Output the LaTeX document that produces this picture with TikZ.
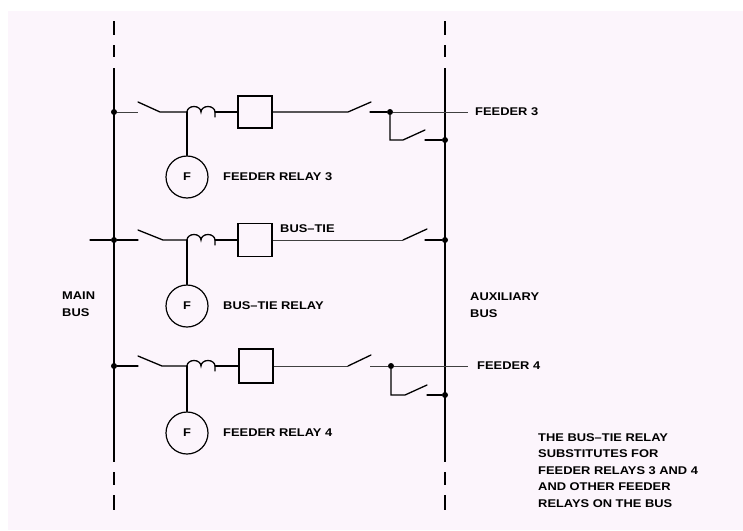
\documentclass[tikz,border=0pt]{standalone}
\usepackage{fontspec}
\newfontfamily\lblfamily[FakeStretch=1.15]{Liberation Sans}
\newcommand{\lblfont}{\lblfamily\bfseries\fontsize{11.2}{16.5}\selectfont}
\definecolor{pinkbg}{RGB}{252,245,252}
\tikzset{
  wire/.style={line width=1.3pt, line cap=round},
  thinwire/.style={line width=1pt, black!75},
  buswire/.style={line width=1.8pt},
  jdot/.style={circle, fill=black, inner sep=0pt, minimum size=6pt},
  relay/.style={circle, draw, line width=1.2pt, minimum size=42pt, inner sep=0pt, font=\lblfont},
  brk/.style={draw, line width=1.2pt, minimum width=34pt, minimum height=32pt, inner sep=0pt},
  lbl/.style={font=\lblfont, inner sep=0pt, anchor=west},
  coilarc/.style={x radius=7pt, y radius=5.5pt},
}
\begin{document}
\begin{tikzpicture}[x=1pt,y=-1pt]
\useasboundingbox (0,0) rectangle (743,530);
\fill[white] (0,0) rectangle (743,530);
\fill[pinkbg] (8,11) rectangle (743,530);

% ---------- buses ----------
\foreach \bx/\nm in {114/L,445/R}{
  \coordinate (bt\nm) at (\bx,68);
  \coordinate (bb\nm) at (\bx,462);
  \draw[buswire] (bt\nm) -- (bb\nm);
  \draw[buswire] (\bx,21) -- (\bx,35);
  \draw[buswire] (\bx,45) -- (\bx,57);
  \draw[buswire] (\bx,472) -- (\bx,485);
  \draw[buswire] (\bx,495) -- (\bx,510);
}

% ---------- row 1 : feeder 3 ----------
\node[jdot] (j1L) at (114,112) {};
\coordinate (s1a) at (138,112);
\coordinate (s1b) at (138,102);
\coordinate (s1c) at (160,112);
\coordinate (c1) at (187,112);
\coordinate (c1e) at (215,112);
\node[brk] (br1) at (255,112) {};
\coordinate (s1d) at (348,112);
\coordinate (s1e) at (371,102);
\coordinate (s1f) at (370,112);
\node[jdot] (j1R) at (390,112) {};
\coordinate (f3end) at (468,112);
\coordinate (k1a) at (390,140);
\coordinate (k1b) at (403,140);
\coordinate (k1c) at (425,130);
\coordinate (k1d) at (425,140);
\node[jdot] (d1) at (445,140) {};
\node[relay] (r1) at (187,177) {F};

\draw[thinwire] (j1L) -- (s1a);
\draw[wire] (s1b) -- (s1c) -- (c1);
\draw[wire] (c1) arc[start angle=180,end angle=0,coilarc] arc[start angle=180,end angle=0,coilarc] -- ++(0,5);
\draw[wire] (c1e) -- (br1.west);
\draw[wire] (br1.east) -- (s1d) -- (s1e);
\draw[wire] (s1f) -- (j1R);
\draw[thinwire] (j1R) -- (f3end);
\draw[wire] (j1R) -- (k1a) -- (k1b) -- (k1c);
\draw[wire] (k1d) -- (d1);
\draw[wire] (c1) -- (r1.north);
\node[lbl] (t1) at (223,177) {FEEDER RELAY 3};
\node[lbl] (t1f) at (475,112) {FEEDER 3};

% ---------- row 2 : bus tie ----------
\coordinate (b2a) at (90,240);
\node[jdot] (j2L) at (114,240) {};
\coordinate (s2a) at (138,240);
\coordinate (s2b) at (138,230);
\coordinate (s2c) at (163,240);
\coordinate (c2) at (187,240);
\coordinate (c2e) at (215,240);
\node[brk, minimum height=33pt] (br2) at (255,240) {};
\coordinate (s2d) at (403,240);
\coordinate (s2e) at (427,229);
\coordinate (s2f) at (425,240);
\node[jdot] (j2R) at (445,240) {};
\node[relay] (r2) at (187,306) {F};

\draw[wire] (b2a) -- (j2L) -- (s2a);
\draw[wire] (s2b) -- (s2c) -- (c2);
\draw[wire] (c2) arc[start angle=180,end angle=0,coilarc] arc[start angle=180,end angle=0,coilarc] -- ++(0,5);
\draw[wire] (c2e) -- (br2.west);
\draw[thinwire] (br2.east) -- (s2d);
\draw[wire] (s2d) -- (s2e);
\draw[wire] (s2f) -- (j2R);
\draw[wire] (c2) -- (r2.north);
\node[lbl] (t2) at (223,306) {BUS–TIE RELAY};
\node[lbl] (t2b) at (280,229) {BUS–TIE};

% ---------- row 3 : feeder 4 ----------
\node[jdot] (j3L) at (114,366) {};
\coordinate (s3a) at (138,366);
\coordinate (s3b) at (138,356);
\coordinate (s3c) at (162,366);
\coordinate (c3) at (187,366);
\coordinate (c3e) at (215,366);
\node[brk, minimum height=34pt] (br3) at (256,366) {};
\coordinate (s3d) at (348,366);
\coordinate (s3e) at (371,355);
\coordinate (s3f) at (370,366);
\node[jdot] (j3R) at (391,366) {};
\coordinate (f4end) at (468,366);
\coordinate (k3a) at (391,395);
\coordinate (k3b) at (405,395);
\coordinate (k3c) at (427,385);
\coordinate (k3d) at (427,395);
\node[jdot] (d3) at (445,395) {};
\node[relay] (r3) at (187,433) {F};

\draw[wire] (j3L) -- (s3a);
\draw[wire] (s3b) -- (s3c) -- (c3);
\draw[wire] (c3) arc[start angle=180,end angle=0,coilarc] arc[start angle=180,end angle=0,coilarc] -- ++(0,5);
\draw[wire] (c3e) -- (br3.west);
\draw[thinwire] (br3.east) -- (s3d);
\draw[wire] (s3d) -- (s3e);
\draw[thinwire] (s3f) -- (j3R) -- (f4end);
\draw[wire] (j3R) -- (k3a) -- (k3b) -- (k3c);
\draw[wire] (k3d) -- (d3);
\draw[wire] (c3) -- (r3.north);
\node[lbl] (t3) at (223,433) {FEEDER RELAY 4};
\node[lbl] (t3f) at (477,366) {FEEDER 4};

% ---------- bus labels ----------
\node[lbl, anchor=north west, align=left] (mb) at (62,292) {MAIN\\BUS};
\node[lbl, anchor=north west, align=left] (ab) at (470,293) {AUXILIARY\\BUS};

% ---------- note ----------
\node[lbl, anchor=north west, align=left] (note) at (538,433)
  {THE BUS–TIE RELAY\\SUBSTITUTES FOR\\FEEDER RELAYS 3 AND 4\\AND OTHER FEEDER\\RELAYS ON THE BUS};
\end{tikzpicture}
\end{document}
